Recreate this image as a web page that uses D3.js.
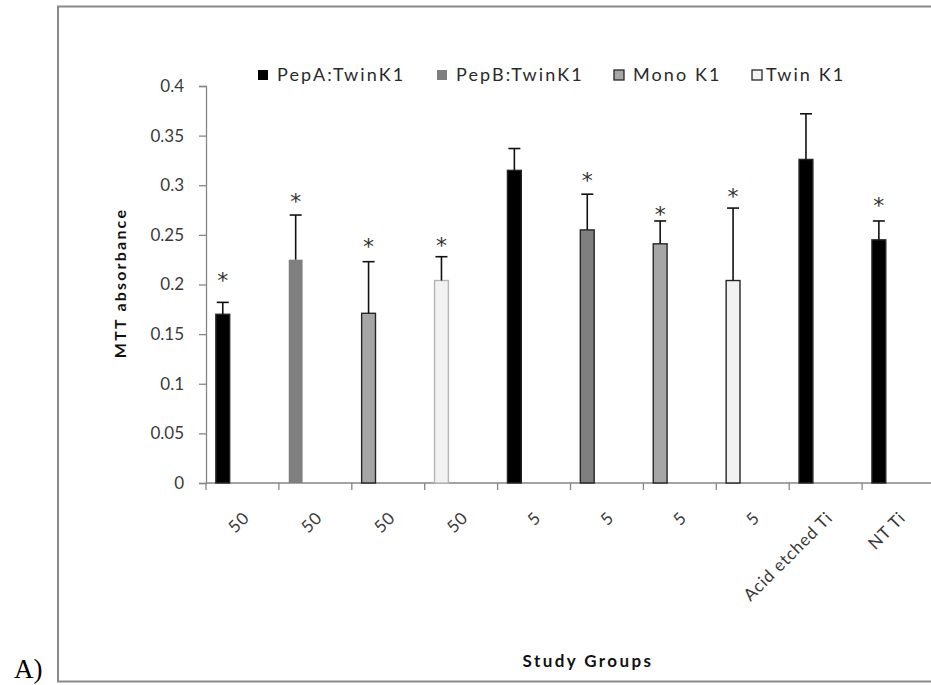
<!DOCTYPE html>
<html>
<head>
<meta charset="utf-8">
<script src="https://cdn.jsdelivr.net/npm/d3@7"></script>
<style>
  html, body { margin: 0; padding: 0; background: #fff; }
  svg { display: block; }
</style>
</head>
<body>
<svg id="chart" width="931" height="685"></svg>
<script>
// Study groups along the x axis
const categories = ["50", "50", "50", "50", "5", "5", "5", "5", "Acid etched Ti", "NT Ti"];
// Treatment each bar belongs to
const groups = ["PepA:TwinK1", "PepB:TwinK1", "Mono K1", "Twin K1",
                "PepA:TwinK1", "PepB:TwinK1", "Mono K1", "Twin K1",
                "PepA:TwinK1", "PepA:TwinK1"];
// Mean MTT absorbance
const means = [0.170, 0.225, 0.171, 0.204, 0.315, 0.255, 0.241, 0.204, 0.326, 0.245];
// Upper standard deviation
const errors = [0.012, 0.045, 0.052, 0.024, 0.022, 0.036, 0.023, 0.073, 0.046, 0.019];
// Height of the significance asterisk (null = not significant)
const starLevels = [0.209, 0.288, 0.243, 0.244, null, 0.309, 0.275, 0.293, null, 0.284];
// Legend series and y ticks
const seriesNames = ["PepA:TwinK1", "PepB:TwinK1", "Mono K1", "Twin K1"];
const yTicks = [0, 0.05, 0.1, 0.15, 0.2, 0.25, 0.3, 0.35, 0.4];

const fill = d3.scaleOrdinal()
  .domain(seriesNames)
  .range(["#000000", "#7f7f7f", "#a6a6a6", "#f2f2f2"]);

const svg = d3.select("#chart");
const FONT = "Lato, 'Open Sans', sans-serif";
const axisGray = "#868686";

// outer frame
svg.append("rect")
  .attr("x", 58).attr("y", 6.5)
  .attr("width", 960).attr("height", 675)
  .attr("fill", "none").attr("stroke", "#8a8a8a").attr("stroke-width", 2);

// panel letter
svg.append("text")
  .attr("x", 14).attr("y", 678)
  .attr("font-family", "'Liberation Serif', 'Times New Roman', serif")
  .attr("font-size", 27).attr("fill", "#000")
  .text("A)");

const plotLeft = 206, plotRight = 935, plotTop = 86, plotBottom = 483;

const x = d3.scaleBand()
  .domain(d3.range(categories.length))
  .range([plotLeft, plotRight]);
const bw = x.bandwidth();

const y = d3.scaleLinear()
  .domain([0, 0.4])
  .range([plotBottom, plotTop]);

// y axis
const yAxis = svg.append("g")
  .attr("transform", `translate(${plotLeft},0)`)
  .call(d3.axisLeft(y).tickValues(yTicks).tickFormat(d => String(d)).tickSize(7).tickPadding(15));
yAxis.select(".domain").attr("stroke", axisGray).attr("stroke-width", 1.3);
yAxis.selectAll(".tick line").attr("stroke", axisGray).attr("stroke-width", 1.3);
yAxis.selectAll(".tick text")
  .attr("font-family", FONT).attr("font-size", 17).attr("fill", "#3a3a3a");

// x axis baseline and category boundary ticks
svg.append("line")
  .attr("x1", plotLeft).attr("x2", plotRight)
  .attr("y1", plotBottom).attr("y2", plotBottom)
  .attr("stroke", axisGray).attr("stroke-width", 1.3);
svg.append("g").selectAll("line")
  .data(d3.range(categories.length + 1))
  .join("line")
  .attr("x1", i => plotLeft + i * bw).attr("x2", i => plotLeft + i * bw)
  .attr("y1", plotBottom).attr("y2", plotBottom + 7)
  .attr("stroke", axisGray).attr("stroke-width", 1.3);

// rotated category labels
svg.append("g").selectAll("text")
  .data(categories)
  .join("text")
  .attr("transform", (d, i) => `translate(${x(i) + bw / 2 + 8},${plotBottom + 36}) rotate(-45)`)
  .attr("text-anchor", "end")
  .attr("font-family", FONT).attr("font-size", 17).attr("fill", "#3a3a3a")
  .attr("letter-spacing", 0.8)
  .text(d => d);

// bars
const barOff = bw * 0.135, barW = bw * 0.19;
svg.append("g").selectAll("rect")
  .data(means)
  .join("rect")
  .attr("x", (d, i) => x(i) + barOff)
  .attr("y", d => y(d))
  .attr("width", barW)
  .attr("height", d => plotBottom - y(d))
  .attr("fill", (d, i) => fill(groups[i]))
  .attr("stroke", (d, i) => i === 1 ? "none" : i === 3 ? "#b5b5b5" : "#262626")
  .attr("stroke-width", 1.4);

// upper error bars
const err = svg.append("g").attr("stroke", "#111").attr("stroke-width", 1.6);
means.forEach((m, i) => {
  const cx = x(i) + barOff + barW / 2;
  err.append("line").attr("x1", cx).attr("x2", cx)
    .attr("y1", y(m)).attr("y2", y(m + errors[i]));
  err.append("line").attr("x1", cx - 6).attr("x2", cx + 6)
    .attr("y1", y(m + errors[i])).attr("y2", y(m + errors[i]));
});

// significance asterisks
svg.append("g").selectAll("text")
  .data(starLevels.map((s, i) => ({ s, i })).filter(d => d.s !== null))
  .join("text")
  .attr("x", d => x(d.i) + barOff + barW / 2)
  .attr("y", d => y(d.s) + 12)
  .attr("text-anchor", "middle")
  .attr("font-family", "'DejaVu Sans', sans-serif").attr("font-size", 22)
  .attr("fill", "#333")
  .text("*");

// legend
const legendX = [258, 437, 614, 752];
const legend = svg.append("g").selectAll("g")
  .data(seriesNames)
  .join("g")
  .attr("transform", (d, i) => `translate(${legendX[i]},75)`);
legend.append("rect")
  .attr("x", 0).attr("y", -5).attr("width", 10).attr("height", 10)
  .attr("fill", d => fill(d))
  .attr("stroke", (d, i) => i < 2 ? "none" : "#262626")
  .attr("stroke-width", 1.3);
legend.append("text")
  .attr("x", (d, i) => i === 3 ? 14 : 19)
  .attr("y", 6)
  .attr("font-family", FONT).attr("font-size", 18).attr("fill", "#2a2a2a")
  .attr("letter-spacing", 2.1)
  .text(d => d);

// axis titles
svg.append("text")
  .attr("transform", `translate(126,283) rotate(-90)`)
  .attr("text-anchor", "middle")
  .attr("font-family", FONT).attr("font-size", 16).attr("font-weight", "bold")
  .attr("letter-spacing", 2.2).attr("fill", "#111")
  .text("MTT absorbance");
svg.append("text")
  .attr("x", 588).attr("y", 667)
  .attr("text-anchor", "middle")
  .attr("font-family", FONT).attr("font-size", 17).attr("font-weight", "bold")
  .attr("letter-spacing", 2.4).attr("fill", "#111")
  .text("Study Groups");
</script>
</body>
</html>
